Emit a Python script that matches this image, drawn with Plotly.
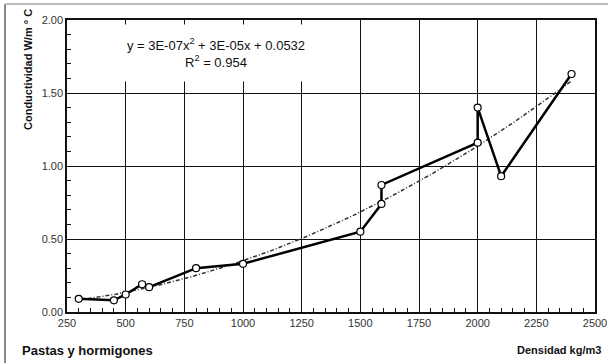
import numpy as np
import plotly.graph_objects as go

densidad = [300, 450, 500, 570, 600, 800, 1000, 1500, 1590, 1590, 2000, 2000, 2100, 2400]
conductividad = [0.09, 0.08, 0.12, 0.19, 0.17, 0.30, 0.33, 0.55, 0.74, 0.87, 1.16, 1.40, 0.93, 1.63]
x_ticks = [250, 500, 750, 1000, 1250, 1500, 1750, 2000, 2250, 2500]
y_ticks = [0.0, 0.5, 1.0, 1.5, 2.0]

coef = np.polyfit(densidad, conductividad, 2)
xt = np.linspace(min(densidad), max(densidad), 200)
yt = np.polyval(coef, xt)

W, H = 608, 363
L, R, T, B = 67, 13, 20, 51
pw, ph = W - L - R, H - T - B

def px(xp):
    return (xp - L) / pw

def py(yp):
    return (H - B - yp) / ph

fig = go.Figure()
fig.add_trace(go.Scatter(x=xt, y=yt, mode="lines",
                         line=dict(color="#333", width=1.5, dash="4px,2px,1px,2px"),
                         hoverinfo="skip", showlegend=False))
fig.add_trace(go.Scatter(x=densidad, y=conductividad, mode="lines+markers",
                         line=dict(color="black", width=2.5),
                         marker=dict(symbol="circle", size=7, color="white",
                                     line=dict(color="black", width=1.2)),
                         showlegend=False))

axis_common = dict(showgrid=True, gridcolor="#111", gridwidth=1, automargin=False,
                   zeroline=False, showline=True, mirror=True, linecolor="#111",
                   linewidth=1.5, ticks="inside", ticklen=5, tickcolor="#111",
                   tickfont=dict(family="Liberation Sans, Arial", size=11, color="#333"))

fig.update_xaxes(range=[250, 2500], tickvals=x_ticks,
                 minor=dict(dtick=50, ticks="inside", ticklen=4, tickcolor="#111", showgrid=False),
                 **axis_common)
fig.update_yaxes(range=[0, 2], tickvals=y_ticks, tickformat=".2f",
                 minor=dict(dtick=0.1, ticks="inside", ticklen=4, tickcolor="#111", showgrid=False),
                 **axis_common)

fig.add_annotation(xref="paper", yref="paper", x=px(216), y=py(53),
                   xanchor="center", yanchor="middle",
                   text="y = 3E-07x<sup>2</sup> + 3E-05x + 0.0532<br>R<sup>2</sup> = 0.954",
                   showarrow=False, bgcolor="white", align="center",
                   width=190, height=54,
                   font=dict(family="Liberation Sans, Arial", size=13, color="#111"))
fig.add_annotation(xref="paper", yref="paper", x=px(28), y=py(70),
                   xanchor="center", yanchor="middle",
                   text="<b>Conductividad W/m ° C</b>", textangle=-90, showarrow=False,
                   font=dict(family="Liberation Sans, Arial", size=11, color="#111"))
fig.add_annotation(xref="paper", yref="paper", x=px(20), y=py(350),
                   xanchor="left", yanchor="middle",
                   text="<b>Pastas y hormigones</b>", showarrow=False,
                   font=dict(family="Liberation Sans, Arial", size=13, color="#111"))
fig.add_annotation(xref="paper", yref="paper", x=px(603), y=py(350),
                   xanchor="right", yanchor="middle",
                   text="<b>Densidad kg/m3</b>", showarrow=False,
                   font=dict(family="Liberation Sans, Arial", size=11, color="#111"))

fig.add_shape(type="line", xref="paper", yref="paper", x0=px(5), x1=px(5), y0=py(4), y1=py(370),
              line=dict(color="#888", width=2))
fig.add_shape(type="line", xref="paper", yref="paper", x0=px(5), x1=px(612), y0=py(4), y1=py(4),
              line=dict(color="#bbb", width=2))

fig.update_layout(width=W, height=H, margin=dict(l=L, r=R, t=T, b=B),
                  plot_bgcolor="white", paper_bgcolor="white")
fig.write_html("out.html", config={"displayModeBar": False},
               post_script="document.body.style.margin='0';document.body.style.overflow='hidden';")
